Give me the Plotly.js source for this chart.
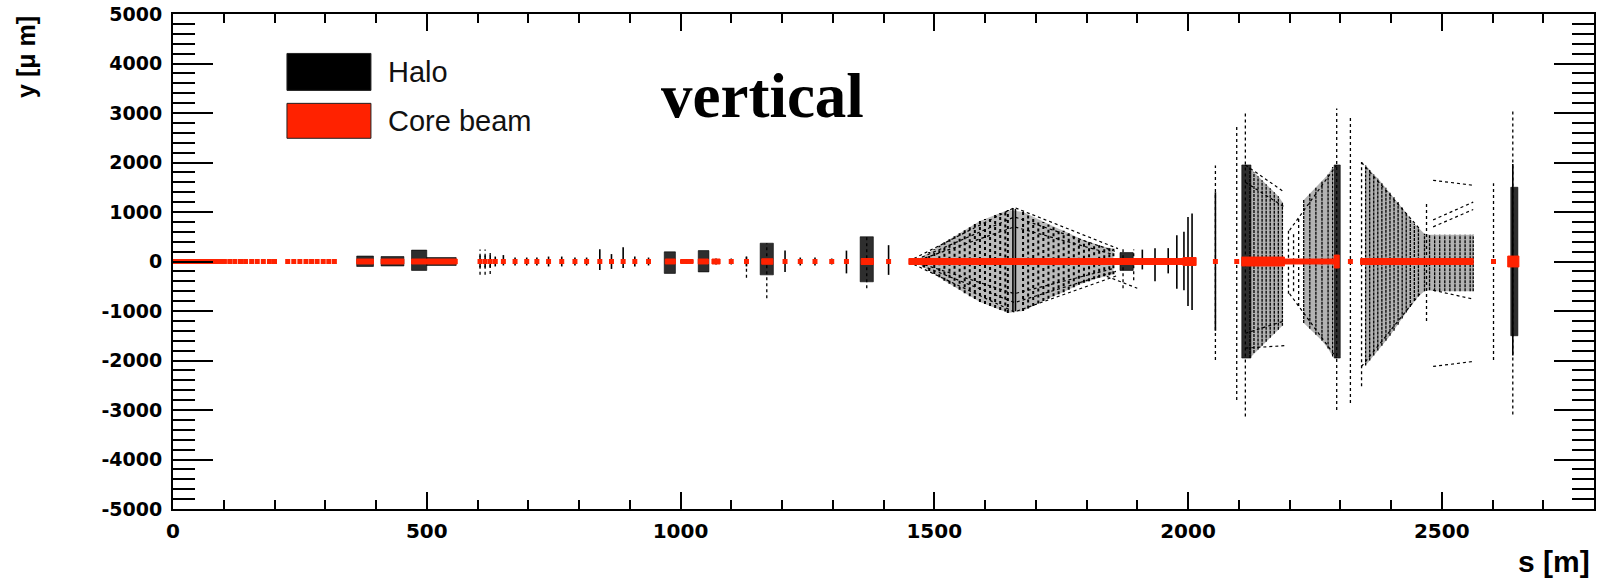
<!DOCTYPE html>
<html>
<head>
<meta charset="utf-8">
<script src="https://cdn.plot.ly/plotly-3.0.1.min.js"></script>
<style>html,body{margin:0;padding:0;background:#fff;}#chart{width:1602px;height:581px;}</style>
</head>
<body>
<div id="chart"></div>
<script>
// ---- Core beam (red) ----
const coreDotS = [112,122,133,143,155,166,178,190,200,226,238,250,262,273,284,296,307,318,
  605,615,625,635,651,674,697,717,740,766,792,815,841,864,887,910,937,
  1100,1130,1206,1236,1265,1298,1327,1410,2054,2096,2320,2602];
const coreBandS0 = [0,362,410,470,970,1000,1035,1062,1160,1356,1450,1990,2106,2190,2288,2340,2630];
const coreBandS1 = [106,395,455,560,990,1025,1055,1078,1182,1380,1990,2016,2190,2290,2298,2562,2652];
const coreBandHalf = [40,50,50,50,50,40,50,50,55,60,60,80,90,50,130,60,110];

// ---- Halo (black): dense clusters ----
const blobS0 = [362,410,470,500,968,1035,1157,1354,1866,2106,2288,2636];
const blobS1 = [395,455,500,558,990,1056,1183,1380,1892,2124,2300,2650];
const blobLo = [-100,-90,-180,-80,-240,-210,-270,-410,-180,-1950,-1950,-1500];
const blobHi = [110,100,230,80,195,220,370,500,180,1950,1950,1500];

// ---- Halo: solid columns (single elements) ----
const denseS  = [605,615,625,635,651,674,697,717,740,766,792,815,841,864,887,910,937,1012,1070,1100,1130,1206,1236,1265,1298,1327,1410,1655,1660,1910,1935,1961,1978,1992,2000,2008,2054,2640];
const denseLo = [-120,-120,-120,-100,-80,-80,-80,-80,-100,-100,-80,-80,-170,-150,-130,-100,-80,-50,-60,-60,-100,-210,-80,-80,-60,-240,-270,-1010,-1000,-160,-400,-240,-550,-580,-900,-980,-1400,-1900];
const denseHi = [120,120,120,100,130,80,80,80,100,100,80,80,250,150,290,100,80,50,60,60,100,220,80,80,60,220,330,1080,1060,240,270,270,530,600,900,970,1400,1970];

// ---- Halo: fans after s = 2100 (thin columns) ----
const fanS  = [2122,2130,2138,2146,2154,2162,2170,2178,2186,
  2228,2240,2252,2264,2276,2285,
  2350,2358,2366,2374,2382,2390,2398,2406,2414,2422,2430,2438,2446,2454,
  2466,2476,2486,2496,2506,2516,2526,2536,2546,2556,2562];
const fanLo = [-1950,-1850,-1780,-1700,-1620,-1540,-1460,-1380,-1300,
  -1240,-1360,-1480,-1600,-1760,-1920,
  -2100,-2000,-1900,-1800,-1700,-1600,-1500,-1400,-1280,-1150,-1030,-920,-800,-700,
  -600,-580,-600,-600,-600,-600,-600,-600,-600,-600,-600];
const fanHi = [1900,1800,1720,1640,1560,1480,1400,1320,1200,
  1240,1370,1500,1620,1760,1910,
  1950,1850,1760,1680,1580,1490,1400,1300,1200,1100,980,870,760,680,
  560,540,540,540,540,540,540,540,540,540,540];

// ---- Halo: diamond between s = 1460 and 1860 (dotted columns) ----
const diamondS  = [1470,1480,1490,1500,1510,1520,1530,1540,1550,1560,1570,1580,1590,1600,1610,1620,1630,1640,1645,
  1675,1685,1695,1705,1715,1725,1735,1745,1755,1765,1775,1785,1795,1805,1815,1825,1835,1845,1853];
const diamondLo = [-60,-120,-190,-250,-320,-390,-450,-510,-570,-640,-700,-760,-820,-860,-900,-940,-980,-1010,-1040,
  -1000,-950,-900,-850,-800,-750,-700,-660,-620,-570,-520,-470,-430,-400,-360,-330,-300,-280,-260];
const diamondHi = [60,120,190,250,320,390,450,510,570,640,700,760,820,860,900,940,980,1010,1040,
  1000,950,900,850,800,750,700,660,620,570,520,470,430,400,360,330,300,280,260];

// ---- Halo: sparse outlier columns (dotted) ----
const sparseS  = [605,615,625,1130,1170,1367,1872,1893,2054,2096,2113,2198,2208,2218,2293,2320,2342,2470,2602,2640];
const sparseLo = [-270,-270,-250,-330,-740,-540,-540,-380,-1990,-2800,-3130,-650,-600,-900,-3000,-2860,-2520,-1200,-1990,-3090];
const sparseHi = [240,240,230,100,370,500,280,240,1940,2720,3020,630,600,900,3090,2950,2010,1200,1580,3050];

// ---- Halo: particle tracks (dotted polylines) ----
const trackS = [
  [1460,1658,1862],[1465,1658,1858],[1470,1658,1850],
  [1460,1658,1862],[1465,1658,1858],[1470,1658,1850],[1840,1900],
  [2113,2190],[2113,2190],[2113,2190],[2113,2190],
  [2200,2293],[2200,2293],
  [2342,2458],[2342,2458],
  [2483,2562],[2483,2562],[2483,2562],[2483,2562],[2483,2562]];
const trackY = [
  [60,1090,260],[40,900,200],[30,700,150],
  [-60,-1020,-280],[-40,-830,-200],[-30,-650,-150],[-300,-540],
  [1950,1400],[1600,1100],[-1750,-1700],[-1450,-1200],
  [630,1950],[-650,-1950],
  [2000,640],[-2120,-640],
  [1640,1540],[-2120,-2020],[840,1200],[700,1050],[-580,-760]];

// ---- Axis ticks ----
const xTickVals = [0,500,1000,1500,2000,2500];
const yTickVals = [-5000,-4000,-3000,-2000,-1000,0,1000,2000,3000,4000,5000];

// ---- builders ----
function segs(S, lo, hi) {
  const x = [], y = [];
  for (let i = 0; i < S.length; i++) { x.push(S[i], S[i], null); y.push(lo[i], hi[i], null); }
  return {x, y};
}
function boxes(s0, s1, lo, hi) {
  const x = [], y = [];
  for (let i = 0; i < s0.length; i++) {
    x.push(s0[i], s1[i], s1[i], s0[i], s0[i], null);
    y.push(lo[i], lo[i], hi[i], hi[i], lo[i], null);
  }
  return {x, y};
}
function polylines(SS, YY) {
  const x = [], y = [];
  for (let i = 0; i < SS.length; i++) { x.push(...SS[i], null); y.push(...YY[i], null); }
  return {x, y};
}
// outline of a group of columns (split where the spacing jumps), used as a light density fill
function envelopes(S, lo, hi, gap) {
  const x = [], y = [];
  let start = 0;
  for (let i = 1; i <= S.length; i++) {
    if (i === S.length || S[i] - S[i - 1] > gap) {
      const idx = [];
      for (let k = start; k < i; k++) idx.push(k);
      idx.forEach(k => { x.push(S[k]); y.push(hi[k]); });
      idx.slice().reverse().forEach(k => { x.push(S[k]); y.push(lo[k]); });
      x.push(S[start], null); y.push(hi[start], null);
      start = i;
    }
  }
  return {x, y};
}

const dense = segs(denseS, denseLo, denseHi);
const fans = segs(fanS, fanLo, fanHi);
const diamond = segs(diamondS, diamondLo, diamondHi);
const sparse = segs(sparseS, sparseLo, sparseHi);
const blobs = boxes(blobS0, blobS1, blobLo, blobHi);
const tracks = polylines(trackS, trackY);
const diamondEnv = envelopes(diamondS, diamondLo, diamondHi, 35);
const fanEnv = envelopes(fanS, fanLo, fanHi, 35);
const coreHalfNeg = coreBandHalf.map(v => -v);
const cores = boxes(coreBandS0, coreBandS1, coreHalfNeg, coreBandHalf);

const traces = [
  {type:'scatter', mode:'lines', name:'Halo', x:diamondEnv.x, y:diamondEnv.y, fill:'toself', fillcolor:'rgba(0,0,0,0.27)', line:{width:0}, showlegend:false, hoverinfo:'skip'},
  {type:'scatter', mode:'lines', name:'Halo', x:fanEnv.x, y:fanEnv.y, fill:'toself', fillcolor:'rgba(0,0,0,0.3)', line:{width:0}, showlegend:false, hoverinfo:'skip'},
  {type:'scatter', mode:'lines', name:'Halo', x:sparse.x, y:sparse.y, line:{color:'#000', width:1.3, dash:'dot'}, showlegend:false, hoverinfo:'skip'},
  {type:'scatter', mode:'lines', name:'Halo', x:diamond.x, y:diamond.y, line:{color:'#000', width:2, dash:'dot'}, showlegend:false, hoverinfo:'skip'},
  {type:'scatter', mode:'lines', name:'Halo', x:tracks.x, y:tracks.y, line:{color:'#000', width:1.2, dash:'dot'}, showlegend:false, hoverinfo:'skip'},
  {type:'scatter', mode:'lines', name:'Halo', x:fans.x, y:fans.y, line:{color:'#000', width:1.3, dash:'3px,1px'}, showlegend:false, hoverinfo:'skip'},
  {type:'scatter', mode:'lines', name:'Halo', x:dense.x, y:dense.y, line:{color:'#000', width:1.6}, showlegend:false, hoverinfo:'skip'},
  {type:'scatter', mode:'lines', name:'Halo', x:blobs.x, y:blobs.y, fill:'toself', fillcolor:'rgba(0,0,0,0.82)', line:{color:'rgba(0,0,0,0.6)', width:1}, showlegend:false, hoverinfo:'skip'},
  {type:'scatter', mode:'lines', name:'Core beam', x:cores.x, y:cores.y, fill:'toself', fillcolor:'#ff2200', line:{color:'#ff2200', width:1}, showlegend:false, hoverinfo:'skip'},
  {type:'scatter', mode:'markers', name:'Core beam', x:coreDotS, y:coreDotS.map(() => 0), marker:{symbol:'square', size:5, color:'#ff2200'}, showlegend:false, hoverinfo:'skip'}
];

const layout = {
  width:1602, height:581,
  margin:{l:173, r:8, t:14, b:72},
  paper_bgcolor:'#fff', plot_bgcolor:'#fff',
  showlegend:false,
  xaxis:{range:[0,2800], tickmode:'array', tickvals:xTickVals, ticktext:xTickVals.map(String),
    ticks:'inside', ticklen:17, tickwidth:2, tickcolor:'#000',
    minor:{dtick:100, tick0:0, ticks:'inside', ticklen:9, tickwidth:2, tickcolor:'#000', showgrid:false},
    showline:true, linewidth:2, linecolor:'#000', mirror:'ticks', showgrid:false, zeroline:false,
    tickfont:{family:'DejaVu Sans, sans-serif', size:20, color:'#000', weight:'bold'}, ticklabelstandoff:3},
  yaxis:{range:[-5000,5000], tickmode:'array', tickvals:yTickVals, ticktext:yTickVals.map(String),
    ticks:'inside', ticklen:40, tickwidth:2, tickcolor:'#000',
    minor:{dtick:200, tick0:0, ticks:'inside', ticklen:22, tickwidth:2, tickcolor:'#000', showgrid:false},
    showline:true, linewidth:2, linecolor:'#000', mirror:'ticks', showgrid:false, zeroline:false,
    tickfont:{family:'DejaVu Sans, sans-serif', size:19, color:'#000', weight:'bold'}, ticklabelstandoff:5},
  shapes:[
    {type:'rect', xref:'paper', yref:'paper', x0:0.0802, x1:0.1393, y0:0.8457, y1:0.9203, fillcolor:'#000', line:{color:'#222', width:1}},
    {type:'rect', xref:'paper', yref:'paper', x0:0.0802, x1:0.1393, y0:0.7489, y1:0.8195, fillcolor:'#ff2200', line:{color:'#222', width:1}}
  ],
  annotations:[
    {xref:'paper', yref:'paper', x:0.1500, y:0.8830, xanchor:'left', yanchor:'middle', text:'Halo', showarrow:false, font:{family:'Liberation Sans, Arial, sans-serif', size:29, color:'#111'}},
    {xref:'paper', yref:'paper', x:0.1500, y:0.7842, xanchor:'left', yanchor:'middle', text:'Core beam', showarrow:false, font:{family:'Liberation Sans, Arial, sans-serif', size:29, color:'#111'}},
    {xref:'paper', yref:'paper', x:0.4145, y:0.8340, xanchor:'center', yanchor:'middle', text:'<b>vertical</b>', showarrow:false, font:{family:'Liberation Serif, Times New Roman, serif', size:63, color:'#000'}},
    {xref:'paper', yref:'paper', x:-0.1035, y:1.0, xanchor:'center', yanchor:'top', textangle:-90, text:'<b>y [\u03bc m]</b>', showarrow:false, font:{family:'Liberation Sans, Arial, sans-serif', size:25, color:'#000'}},
    {xref:'paper', yref:'paper', x:0.9986, y:-0.1063, xanchor:'right', yanchor:'middle', text:'<b>s [m]</b>', showarrow:false, font:{family:'Liberation Sans, Arial, sans-serif', size:30, color:'#000'}}
  ]
};

Plotly.newPlot('chart', traces, layout, {staticPlot:true, displayModeBar:false});
</script>
</body>
</html>
